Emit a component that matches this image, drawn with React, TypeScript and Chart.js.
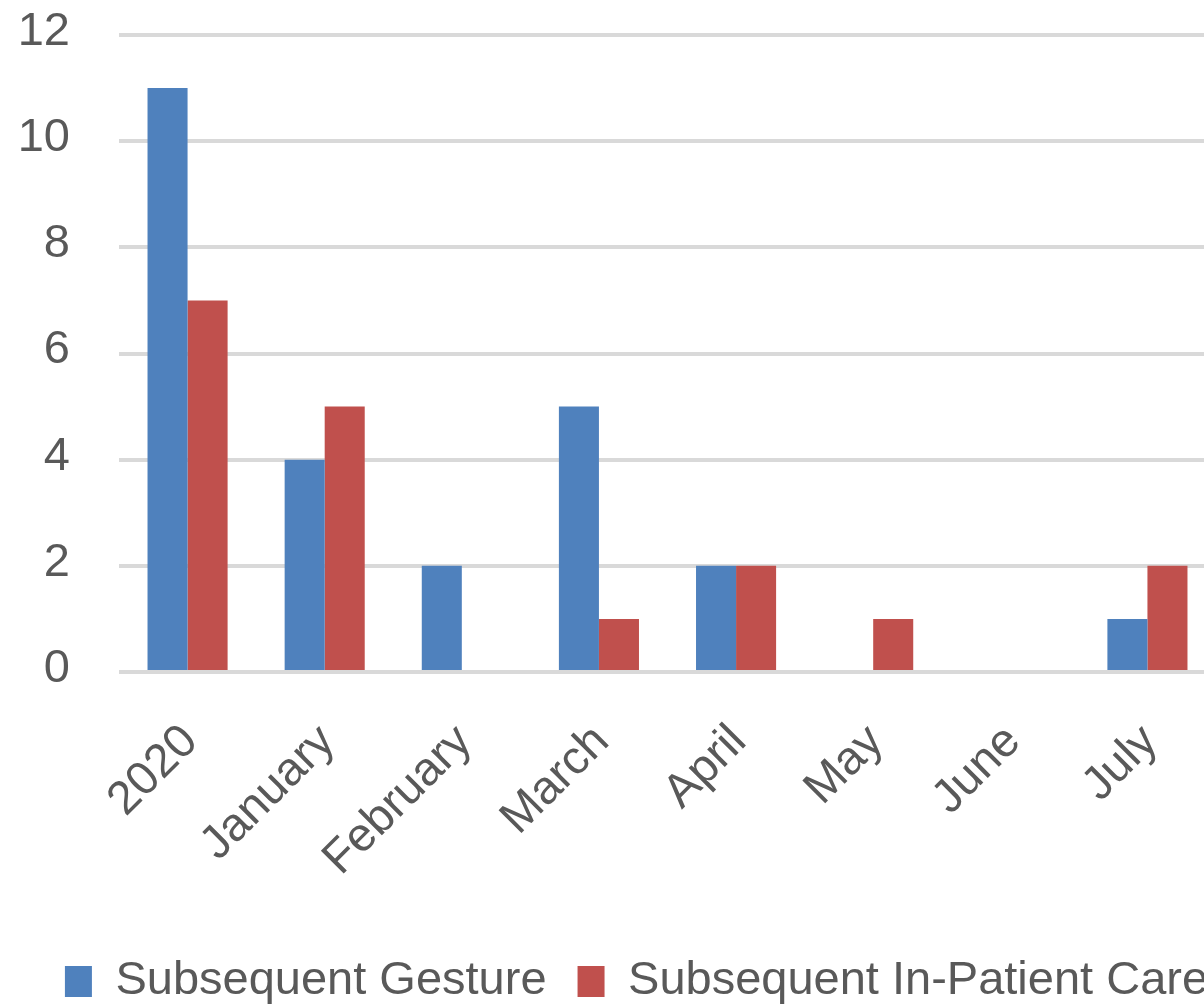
import React, { useEffect, useRef } from "react";
import { Chart, registerables } from "chart.js";

Chart.register(...registerables);

const categories = ["2020", "January", "February", "March", "April", "May", "June", "July"];
const gestureValues = [11, 4, 2, 5, 2, 0, 0, 1];
const inPatientValues = [7, 5, 0, 1, 2, 1, 0, 2];
const seriesNames = ["Subsequent Gesture", "Subsequent In-Patient Care"];
const yMin = 0;
const yMax = 12;
const yStep = 2;

const H = 1015;
const PLOT_LEFT = 119;
const PLOT_RIGHT = 1216;
const PLOT_BOTTOM = 672;
const LEGEND_TOP = 927;
const LEGEND_START = 65;
const FONT = "'Liberation Sans', Arial, sans-serif";
const FONT_SIZE = 47;
const BOX_W = 27;
const BOX_H = 31;
const LEGEND_PAD = 31;
const TEXT = "#595959";
const BLUE = "#4F81BD";
const RED = "#C0504D";

export default function App() {
  const ref = useRef<HTMLCanvasElement>(null);

  useEffect(() => {
    const canvas = ref.current as HTMLCanvasElement;
    const mctx = document.createElement("canvas").getContext("2d") as CanvasRenderingContext2D;
    mctx.font = `normal ${FONT_SIZE}px ${FONT}`;
    const items = seriesNames.map((n) => BOX_W + FONT_SIZE / 2 + mctx.measureText(n).width);
    const itemsSum = items.reduce((a, b) => a + b, 0);
    // centered legend: start = (pad + W - (itemsSum + n*pad)) / 2
    const W = Math.round(2 * LEGEND_START - LEGEND_PAD + itemsSum + seriesNames.length * LEGEND_PAD);
    canvas.width = W;
    canvas.height = H;

    const chart = new Chart(canvas, {
      type: "bar",
      data: {
        labels: categories,
        datasets: [
          {
            label: seriesNames[0],
            data: gestureValues,
            backgroundColor: BLUE,
            borderWidth: 0,
            categoryPercentage: 0.584,
            barPercentage: 1,
          },
          {
            label: seriesNames[1],
            data: inPatientValues,
            backgroundColor: RED,
            borderWidth: 0,
            categoryPercentage: 0.584,
            barPercentage: 1,
          },
        ],
      },
      options: {
        animation: false,
        responsive: false,
        devicePixelRatio: 1,
        layout: { padding: { left: 0, right: 0, top: 35, bottom: 0 } },
        plugins: {
          legend: {
            position: "bottom",
            align: "center",
            labels: {
              boxWidth: BOX_W,
              boxHeight: BOX_H,
              padding: LEGEND_PAD,
              color: TEXT,
              font: { family: FONT, size: FONT_SIZE },
            },
          },
          tooltip: { enabled: false },
        },
        scales: {
          x: {
            grid: { display: false },
            border: { display: false },
            ticks: {
              autoSkip: false,
              minRotation: 45,
              maxRotation: 45,
              padding: 54,
              labelOffset: 3,
              color: TEXT,
              font: { family: FONT, size: FONT_SIZE, lineHeight: 0.01 },
            },
            afterFit: (s: any) => {
              s.height = LEGEND_TOP - PLOT_BOTTOM;
              s.paddingLeft = 0;
              s.paddingRight = 0;
            },
          },
          y: {
            min: yMin,
            max: yMax,
            ticks: {
              stepSize: yStep,
              padding: 49,
              labelOffset: -3,
              color: TEXT,
              font: { family: FONT, size: FONT_SIZE },
            },
            grid: { color: "#D9D9D9", lineWidth: 4, drawTicks: false },
            border: { display: false },
            afterFit: (s: any) => {
              s.width = PLOT_LEFT;
              s.paddingTop = 0;
              s.paddingBottom = 0;
            },
          },
          yRightSpace: {
            type: "linear",
            position: "right",
            display: true,
            grid: { display: false },
            border: { display: false },
            ticks: { display: false },
            afterFit: (s: any) => {
              s.width = W - PLOT_RIGHT;
              s.paddingTop = 0;
              s.paddingBottom = 0;
            },
          },
        },
      },
    });
    return () => chart.destroy();
  }, []);

  return (
    <div
      style={{
        position: "fixed",
        left: 0,
        top: 0,
        width: 1204,
        height: 1007,
        overflow: "hidden",
        background: "#ffffff",
      }}
    >
      <canvas ref={ref} style={{ display: "block" }} />
    </div>
  );
}
